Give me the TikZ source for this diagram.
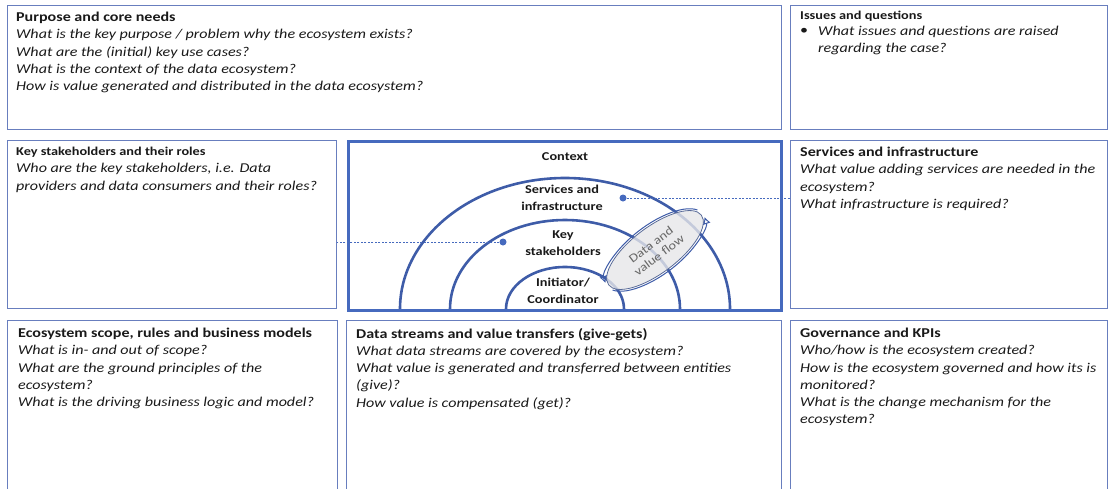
\documentclass[tikz,border=0pt]{standalone}
\usepackage{fontspec}
\setmainfont{Carlito}[FakeStretch=1.19]
\usetikzlibrary{shapes.geometric,arrows.meta}
\definecolor{boxblue}{RGB}{104,126,190}
\definecolor{frameblue}{RGB}{70,106,190}
\definecolor{arcblue}{RGB}{62,92,168}
\definecolor{textgray}{RGB}{25,25,25}
\definecolor{flowgray}{RGB}{230,230,232}
\newcommand\ttlfont{\fontsize{13.5}{17.2}\selectfont\bfseries\upshape}
\begin{document}
\begin{tikzpicture}[x=1pt,y=-1pt,
  box/.style={draw=boxblue, line width=1.3pt, anchor=north west, inner sep=0pt},
  txt/.style={anchor=north west, align=left, inner sep=0pt, text=textgray,
    font=\fontsize{13.5}{17.2}\selectfont\itshape},
  ctr/.style={align=center, inner sep=0pt, text=textgray,
    font=\fontsize{12}{16.5}\selectfont\bfseries},
  dot/.style={circle, fill=frameblue, inner sep=0pt, minimum size=7pt},
  link/.style={draw=frameblue, line width=0.8pt, dash pattern=on 2pt off 1.5pt},
  flowarrow/.style={draw=arcblue, line width=1pt, -{Latex[open,length=7pt,width=8pt]}}
]
\path[use as bounding box] (0,0) rectangle (1109,488);

% boxes
\node[box, minimum width=774pt, minimum height=124pt] (pc) at (7,5) {};
\node[box, minimum width=317pt, minimum height=124pt] (iq) at (790,5) {};
\node[box, minimum width=329pt, minimum height=168pt] (ks) at (7,140) {};
\node[box, minimum width=317pt, minimum height=168pt] (si) at (790,140) {};
\node[box, minimum width=330pt, minimum height=180pt] (es) at (7,320) {};
\node[box, minimum width=435pt, minimum height=180pt] (ds) at (346,320) {};
\node[box, minimum width=317pt, minimum height=180pt] (gk) at (790,320) {};

% centre diagram
\begin{scope}
  \clip (347,140) rectangle (780,309);
  \draw[arcblue, line width=2.6pt] (565,309) ellipse [x radius=165, y radius=131];
  \draw[arcblue, line width=2.6pt] (565,309) ellipse [x radius=115, y radius=89];
  \draw[arcblue, line width=2.6pt] (565,309) ellipse [x radius=59, y radius=42];
\end{scope}
\node[draw=frameblue, line width=3pt, anchor=north west, inner sep=0pt,
  minimum width=433pt, minimum height=169pt] (ctx) at (347,140) {};

\node[ctr] (lctx) at (565,157) {Context};
\node[ctr] (lsi) at (562,198) {Services and\\infrastructure};
\node[ctr] (lks) at (563,243) {Key\\stakeholders};
\node[ctr] (lic) at (563,291) {Initiator/\\Coordinator};

% dots and dashed links
\node[dot] (dsi) at (623,198) {};
\node[dot] (dks) at (503,242) {};
\draw[link] (dsi) -- (dsi -| si.west);
\draw[link] (dks) -- (dks -| ks.east);

% data and value flow
\node[ellipse, draw=arcblue!60!gray, line width=0.8pt, fill=flowgray, fill opacity=0.8,
  text opacity=1, rotate=37, minimum width=116pt, minimum height=46pt, inner sep=0pt,
  text=black!60, align=center, font=\fontsize{12}{13.5}\selectfont] (flow) at (655,250) {Data and\\value flow};
\begin{scope}[shift={(655,250)}, rotate=37]
  \draw[flowarrow] (15:60pt and 25pt) arc[start angle=15, end angle=172, x radius=60pt, y radius=25pt];
  \draw[flowarrow] (195:60pt and 25pt) arc[start angle=195, end angle=352, x radius=60pt, y radius=25pt];
\end{scope}

% texts
\node[txt] (tpc) at (16,12) {{\ttlfont Purpose and core needs}\\
What is the key purpose / problem why the ecosystem exists?\\
What are the (initial) key use cases?\\
What is the context of the data ecosystem?\\
How is value generated and distributed in the data ecosystem?};

\node[txt] (tiq) at (800,11) {{\fontsize{12}{14}\selectfont\bfseries\upshape Issues and questions}};
\node[txt, anchor=north west] (biq) at (800,28) {\upshape •};
\node[txt] (qiq) at (818,26) {What issues and questions are raised\\regarding the case?};

\node[txt] (tks) at (16,147) {{\fontsize{12}{14.5}\selectfont\bfseries\upshape Key stakeholders and their roles}\\
Who are the key stakeholders, i.e. Data\\
providers and data consumers and their roles?};

\node[txt] (tsi) at (800,147) {{\ttlfont Services and infrastructure}\\
What value adding services are needed in the\\
ecosystem?\\
What infrastructure is required?};

\node[txt] (tes) at (18,328) {{\ttlfont Ecosystem scope, rules and business models}\\
What is in- and out of scope?\\
What are the ground principles of the\\
ecosystem?\\
What is the driving business logic and model?};

\node[txt] (tds) at (356,328) {{\ttlfont Data streams and value transfers (give-gets)}\\
What data streams are covered by the ecosystem?\\
What value is generated and transferred between entities\\
(give)?\\
How value is compensated (get)?};

\node[txt] (tgk) at (800,328) {{\ttlfont Governance and KPIs}\\
Who/how is the ecosystem created?\\
How is the ecosystem governed and how its is\\
monitored?\\
What is the change mechanism for the\\
ecosystem?};
\end{tikzpicture}
\end{document}
